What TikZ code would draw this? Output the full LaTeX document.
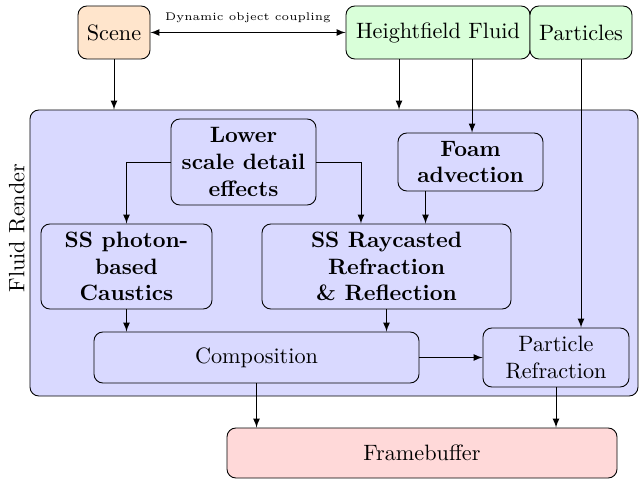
\documentclass[tikz,border=0pt]{standalone}
\usetikzlibrary{arrows}
\begin{document}
\begin{tikzpicture}[x=0.45pt,y=-0.45pt,
  blk/.style={draw, rounded corners=4pt, align=center, inner sep=1pt, line width=0.4pt},
  arr/.style={-latex, line width=0.4pt},
  bf/.style={font=\bfseries}]
\useasboundingbox (0,0) rectangle (640,479);
% Fluid render container
\node[blk, fill=blue!15, minimum width=273.6pt, minimum height=128.7pt] (fr) at (334,253) {};
\node[rotate=90] (frlabel) at (17,228) {Fluid Render};
% top sources
\node[blk, fill=orange!20, minimum width=32.4pt, minimum height=23.85pt] (scene) at (114,32.5) {Scene};
\node[blk, fill=green!15, minimum width=82.8pt, minimum height=23.85pt] (hf) at (438,32.5) {Heightfield Fluid};
\node[blk, fill=green!15, minimum width=45.9pt, minimum height=23.85pt] (part) at (581,32.5) {Particles};
% inner nodes
\node[blk, bf, fill=blue!15, minimum width=65.25pt, minimum height=38.7pt] (lower) at (243.5,162) {Lower\\scale detail\\effects};
\node[blk, bf, fill=blue!15, minimum width=65.25pt, minimum height=26.1pt] (foam) at (470.5,162) {Foam\\advection};
\node[blk, bf, fill=blue!15, minimum width=76.95pt, minimum height=38.25pt] (caus) at (126.5,266.5) {SS photon-\\based\\Caustics};
\node[blk, bf, fill=blue!15, minimum width=112.05pt, minimum height=38.25pt] (ray) at (386.5,266.5) {SS Raycasted\\Refraction\\\& Reflection};
\node[blk, fill=blue!15, minimum width=146.25pt, minimum height=22.95pt] (comp) at (256.5,357.5) {Composition};
\node[blk, fill=blue!15, minimum width=65.7pt, minimum height=26.55pt] (pr) at (556,357.5) {Particle\\Refraction};
\node[blk, fill=red!15, minimum width=175.5pt, minimum height=22.5pt] (fb) at (422,453) {Framebuffer};
% connectors
\draw[latex-latex, line width=0.4pt] (scene.east) -- node[above, font=\tiny, yshift=1pt] {Dynamic object coupling} (hf.west);
\draw[arr] (scene.south) -- (scene.south |- fr.north);
\draw[arr] ([xshift=-17.55pt]hf.south) -- ([xshift=-17.55pt]hf.south |- fr.north);
\draw[arr] ([xshift=0.7pt]hf.south -| foam.north) -- ([xshift=0.7pt]foam.north);
\draw[arr] (part.south) -- (part.south |- pr.north);
\draw[arr] (lower.west) -| (caus.north);
\draw[arr] (lower.east) -| ([xshift=-11.5pt]ray.north);
\draw[arr] ([xshift=-20.25pt]foam.south) -- ([xshift=-20.25pt]foam.south |- ray.north);
\draw[arr] (caus.south) -- (caus.south |- comp.north);
\draw[arr] (ray.south) -- (ray.south |- comp.north);
\draw[arr] (comp.east) -- (pr.west);
\draw[arr] (comp.south) -- (comp.south |- fb.north);
\draw[arr] (pr.south) -- (pr.south |- fb.north);
\end{tikzpicture}
\end{document}
